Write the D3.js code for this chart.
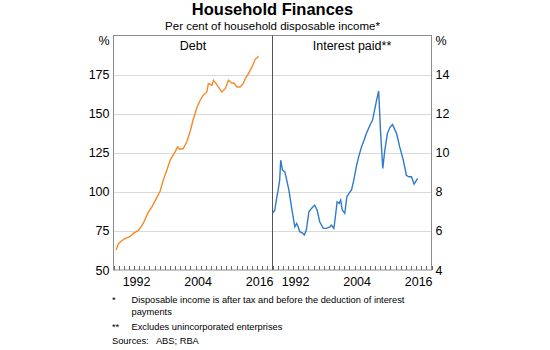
<!DOCTYPE html>
<html><head><meta charset="utf-8">
<script src="https://cdn.jsdelivr.net/npm/d3@7"></script>
<style>body{margin:0;background:#fff}svg{display:block;font-family:"Liberation Sans",Arial,sans-serif}</style>
</head><body><svg id="c" width="550" height="350"></svg>
<script>
// Debt, per cent of household disposable income (left panel)
const debtYears = [1988.5,1989,1989.6,1990.3,1991.2,1991.9,1992.9,1993.8,1994.8,1995.5,1996.5,1997.1,1997.7,1998.4,1999.05,2000,2000.5,2000.9,2001.6,2002.3,2003,2003.6,2004.3,2004.9,2005.5,2006.2,2006.5,2007.2,2007.5,2008.2,2009.1,2009.8,2010.4,2011.1,2011.5,2012.05,2012.7,2013.3,2013.7,2014.3,2015,2015.6,2016.3];
const debtValues = [62.8,67,68.7,70.2,71.3,73.4,75.5,79.8,87.2,90.4,96.8,100.5,107.5,113.9,120.3,125.6,128.8,127.3,127.7,132,139.4,146.9,154.3,158.6,161.8,163.9,169.3,168.2,171.4,168.2,163.9,166,171.4,169.6,169.6,167.1,167.1,169.3,172.4,175.6,179.9,184.6,186.7];
// Interest paid, per cent of household disposable income (right panel)
const intYears = [1988.1,1988.45,1988.8,1989.1,1989.4,1989.6,1989.95,1990.4,1990.7,1991.2,1991.7,1992.35,1992.7,1993,1993.3,1993.8,1994.2,1994.6,1995.1,1995.6,1996.2,1996.7,1997.2,1997.9,1998.5,1999.2,1999.5,1999.95,2000.1,2000.6,2001,2001.3,2001.6,2002.1,2002.5,2003.1,2003.4,2003.85,2004.4,2004.8,2005.35,2005.85,2006.3,2007,2007.5,2007.9,2008.3,2008.7,2009.05,2009.5,2009.9,2010.4,2010.9,2011.4,2012.2,2012.8,2013.5,2014.1,2014.6,2015.1,2015.6,2016.3];
const intValues = [6.93,7.07,7.66,8.09,8.6,9.62,9.11,9.02,8.69,8.09,7.23,6.21,6.38,6.21,5.96,5.9,5.79,6.04,6.98,7.15,7.32,7.07,6.47,6.13,6.13,6.21,6.3,6.13,6.38,7.49,7.41,7.58,7.07,6.9,7.75,8.0,8.09,8.6,9.37,9.79,10.3,10.64,10.98,11.41,11.66,12.18,12.69,13.16,11.15,9.2,10.13,10.98,11.3,11.44,10.98,10.3,9.62,8.85,8.77,8.77,8.39,8.69];
const leftTicks = [50,75,100,125,150,175];
const rightTicks = [4,6,8,10,12,14];
const yearLabels = [1992,2004,2016];
const title = "Household Finances";
const subtitle = "Per cent of household disposable income*";
const panelTitles = ["Debt","Interest paid**"];
const notes = [["*","Disposable income is after tax and before the deduction of interest"],["","payments"],["**","Excludes unincorporated enterprises"]];
const sources = "Sources:   ABS; RBA";

const svg = d3.select("#c");
const L=113.5, M=272.5, R=431.5, T=35.5, B=270;
const yL = d3.scaleLinear().domain([50,200]).range([B,T]);
const yR = d3.scaleLinear().domain([4,16]).range([B,T]);
const x1 = d3.scaleLinear().domain([1988,2019]).range([L,M]);
const x2 = d3.scaleLinear().domain([1988,2019]).range([M,R]);

// gridlines
const g = svg.append("g");
g.selectAll("line.grid").data(leftTicks.slice(1)).join("line")
 .attr("x1",L).attr("x2",R).attr("y1",d=>Math.round(yL(d))+0.5).attr("y2",d=>Math.round(yL(d))+0.5)
 .attr("stroke","#d9d9d9").attr("stroke-width",1);

// year ticks
const years = d3.range(1988,2020);
[x1,x2].forEach(x=>{
  g.selectAll(null).data(years).join("line")
   .attr("x1",d=>Math.round(x(d))+0.5).attr("x2",d=>Math.round(x(d))+0.5)
   .attr("y1",B).attr("y2",B-4).attr("stroke","#666").attr("stroke-width",1);
  g.selectAll(null).data(yearLabels).join("text")
   .attr("x",d=>x(d+0.5)).attr("y",B+16).attr("text-anchor","middle")
   .attr("font-size",12.5).attr("fill","#000").text(d=>d);
});

// frame
svg.append("rect").attr("x",L).attr("y",T).attr("width",R-L).attr("height",B-T)
 .attr("fill","none").attr("stroke","#8c8c8c").attr("stroke-width",1);
svg.append("line").attr("x1",M).attr("x2",M).attr("y1",T).attr("y2",B).attr("stroke","#555");

// y labels
svg.selectAll(null).data(leftTicks).join("text").attr("x",L-4).attr("y",d=>yL(d)+4.5)
 .attr("text-anchor","end").attr("font-size",12.5).text(d=>d);
svg.selectAll(null).data(rightTicks).join("text").attr("x",R+4).attr("y",d=>yR(d)+4.5)
 .attr("text-anchor","start").attr("font-size",12.5).text(d=>d);
svg.append("text").attr("x",L-4).attr("y",T+9).attr("text-anchor","end").attr("font-size",12.5).text("%");
svg.append("text").attr("x",R+4).attr("y",T+9).attr("text-anchor","start").attr("font-size",12.5).text("%");

// panel titles
svg.append("text").attr("x",(L+M)/2).attr("y",T+14).attr("text-anchor","middle").attr("font-size",12.5).text(panelTitles[0]);
svg.append("text").attr("x",(M+R)/2).attr("y",T+14).attr("text-anchor","middle").attr("font-size",12.5).text(panelTitles[1]);

// lines
const debt = debtYears.map((y,i)=>[y,debtValues[i]]);
const intr = intYears.map((y,i)=>[y,intValues[i]]);
svg.append("path").datum(debt).attr("fill","none").attr("stroke","#f58a2a").attr("stroke-width",1.4)
 .attr("d",d3.line().x(d=>x1(d[0])).y(d=>yL(d[1])));
svg.append("path").datum(intr).attr("fill","none").attr("stroke","#2f7acb").attr("stroke-width",1.4)
 .attr("d",d3.line().x(d=>x2(d[0])).y(d=>yR(d[1])));

// title
svg.append("text").attr("x",272.5).attr("y",15).attr("text-anchor","middle").attr("font-size",16.5).attr("font-weight","bold").text(title);
svg.append("text").attr("x",272.5).attr("y",30).attr("text-anchor","middle").attr("font-size",11.5).text(subtitle);

// notes
const ny=[302.5,315,329.5];
notes.forEach((n,i)=>{
  svg.append("text").attr("x",112).attr("y",ny[i]).attr("font-size",9.3).text(n[0]);
  svg.append("text").attr("x",131.5).attr("y",ny[i]).attr("font-size",9.3).text(n[1]);
});
svg.append("text").attr("x",112).attr("y",343.5).attr("font-size",9.3).style("white-space","pre").text(sources);
</script></body></html>
